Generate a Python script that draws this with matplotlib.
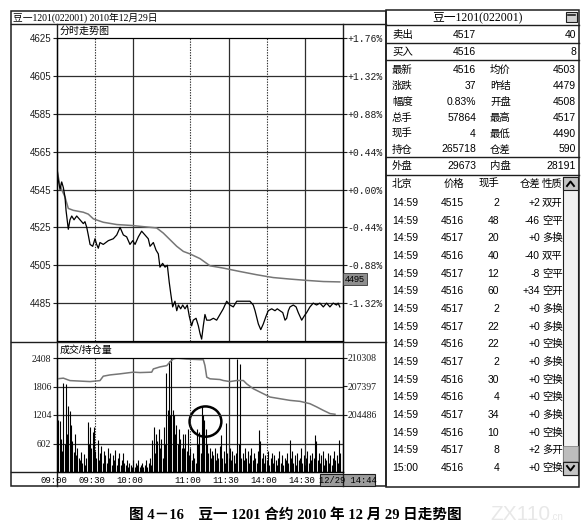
import matplotlib
matplotlib.use("Agg")
import matplotlib.pyplot as plt
import matplotlib.transforms as mtransforms
from matplotlib.patches import Rectangle, Ellipse

# intraday trace, x = trading minutes since 09:00 (lunch/break removed)
price_t = [0, 1, 2.4, 3.7, 5, 6.3, 7.1, 8.9, 10.2, 11.6, 13.4, 15.5, 18.1, 20.7, 22, 23.4,
           24.6, 26, 28.1, 29.9, 31.2, 32.5, 33.8, 36.4, 40.4, 44.3, 47, 49.6, 52.2, 54.8,
           57.4, 59.6, 61.4, 64, 66.6, 69.2, 71.8, 73.2, 75.8, 77.9, 79.7, 81, 83.1, 85,
           86.8, 88.3, 89.5, 91, 92.8, 94.2, 95.5, 97.3, 98.9, 100.7, 102.5, 104.1, 105.9,
           107.2, 109.4, 111.2, 112.5, 113.8, 115.1, 116.4, 117.8, 120.4, 123, 125.6, 128.2,
           130.8, 133.5, 136.1, 138.7, 141.4, 143.9, 146.5, 149.1, 151.8, 154.4, 155.8,
           158.4, 160.3, 162.3, 164.4, 166.2, 168.9, 171.5, 173.3, 175.4, 177.6, 179.4,
           180.7, 182, 183.3, 185.9, 188.1, 189.8, 192.5, 194.3, 196.4, 199, 201.6, 204.2,
           206.8, 209.5, 212.1, 214.7, 217.3, 219.9, 221.2, 222.5]
price_v = [4557, 4550, 4545, 4549, 4546, 4541, 4534, 4524, 4529, 4531, 4529, 4531, 4529, 4527,
           4528, 4525, 4521, 4516, 4515, 4519, 4516, 4514, 4517, 4516, 4518, 4519, 4521, 4525,
           4521, 4520, 4516, 4518, 4516, 4520, 4523, 4521, 4519, 4515, 4517, 4513, 4511, 4504,
           4506, 4504, 4505, 4496, 4490, 4483, 4486, 4481, 4484, 4482, 4484, 4482, 4484, 4478,
           4473, 4476, 4477, 4473, 4469, 4466, 4473, 4479, 4476, 4476, 4477, 4476, 4479, 4482,
           4486, 4484, 4483, 4486, 4486, 4486, 4486, 4486, 4484, 4481, 4474, 4471, 4474, 4478,
           4481, 4482, 4481, 4482, 4481, 4480, 4476, 4477, 4481, 4483, 4484, 4483, 4480, 4476,
           4478, 4480, 4483, 4485, 4484, 4485, 4483, 4485, 4483, 4485, 4484, 4485, 4483]

avg_t = [0, 2.4, 6.3, 8.9, 12.8, 20.7, 24.6, 28.6, 36.4, 47, 58.8, 70.6, 78.4, 83.6, 88.9,
         94.2, 99.4, 104.6, 112.5, 120.4, 130.8, 143.9, 157, 170.1, 183.3, 196.4, 209.5, 222.5]
avg_v = [4555, 4547, 4541, 4535, 4534, 4533, 4532, 4529.5, 4527.7, 4526.5, 4526, 4525.2,
         4524.7, 4522, 4518.5, 4515, 4512.3, 4511, 4508.5, 4504.7, 4503.5, 4501.7, 4500,
         4498.5, 4497.7, 4497, 4496.4, 4496.2]
avg_label = "4495"

oi_t = [0, 5, 10.2, 18.1, 26, 29.9, 33.8, 36.4, 41.7, 49.6, 60, 65.3, 74.5, 75.8, 81, 86.3,
        88.9, 91.5, 94.2, 102, 112.5, 115.1, 116.4, 117.8, 120.4, 128.2, 130.8, 136.1, 141.4,
        146.6, 149.2, 154.4, 162.3, 167.6, 175.4, 183.3, 191.2, 199, 204.3, 209.5, 214.8, 218.7]
oi_v = [208180, 208250, 208000, 207950, 207900, 207950, 208000, 208450, 208580, 208690,
        208860, 208820, 208860, 209190, 209400, 209530, 209900, 210210, 210300, 210200,
        210140, 210140, 209530, 208350, 208180, 208110, 208010, 207900, 208010, 208010,
        207670, 207170, 206660, 206320, 206150, 205980, 205880, 205640, 205310, 204960,
        204630, 204560]

# one bar per minute
volume = [1280, 1100, 1070, 700, 450, 1890, 600, 1850, 800, 1390,
          1280, 1000, 650, 420, 800, 350, 500, 300, 250, 420,
          200, 380, 150, 300, 1050, 600, 960, 500, 850, 950,
          450, 300, 680, 250, 400, 540, 200, 450, 350, 200,
          500, 300, 400, 150, 350, 250, 470, 150, 300, 400,
          150, 250, 400, 200, 150, 250, 100, 200, 150, 100,
          260, 100, 200, 150, 250, 100, 150, 200, 100, 150,
          250, 100, 200, 300, 150, 680, 940, 400, 800, 650,
          900, 500, 700, 300, 950, 600, 2100, 1300, 2350, 1200,
          2400, 1300, 1200, 800, 1000, 600, 900, 700, 500, 800,
          500, 800, 450, 900, 350, 500, 250, 400, 300, 200,
          900, 600, 850, 400, 1400, 1200, 1100, 900, 600, 400,
          500, 300, 450, 350, 500, 250, 400, 300, 550, 780,
          300, 450, 200, 1030, 400, 300, 500, 250, 450, 350,
          200, 400, 2380, 600, 2280, 300, 400, 250, 500, 300,
          450, 200, 350, 500, 250, 400, 300, 200, 450, 890,
          650, 300, 400, 200, 350, 250, 450, 150, 300, 400,
          200, 350, 250, 150, 300, 450, 200, 350, 150, 300,
          250, 400, 200, 680, 300, 450, 200, 350, 150, 400,
          250, 300, 500, 200, 350, 150, 300, 450, 200, 350,
          250, 400, 300, 790, 650, 250, 400, 200, 350, 450,
          150, 300, 250, 400, 200, 350, 150, 300, 450, 250,
          350, 200, 680, 400]

price_ticks = [4485, 4505, 4525, 4545, 4565, 4585, 4605, 4625]
base_price = 4545
vol_ticks = [602, 1204, 1806, 2408]
oi_ticks = [204486, 207397, 210308]
time_ticks = [0, 30, 60, 105, 135, 165, 195]
time_labels = ["09:00", "09:30", "10:00", "11:00", "11:30", "14:00", "14:30"]
grid_solid = [False, True, False, True, False, True]   # for time_ticks[1:]

# circled region in the volume panel (minute, volume, width, height)
ring = (116.8, 1065, 25, 640)

# quote panel
q_name_l = ["卖出", "买入", "最新", "涨跌", "幅度", "总手", "现手", "持仓", "外盘"]
q_val_l = ["4517", "4516", "4516", "37", "0.83%", "57864", "4", "265718", "29673"]
q_name_r = ["", "", "均价", "昨结", "开盘", "最高", "最低", "仓差", "内盘"]
q_val_r = ["40", "8", "4503", "4479", "4508", "4517", "4490", "590", "28191"]

tick_head = ["北京", "价格", "现手", "仓差", "性质"]
tick_time = ["14:59"] * 15 + ["15:00"]
tick_price = [4515, 4516, 4517, 4516, 4517, 4516, 4517, 4517, 4516, 4517, 4516, 4516, 4517, 4516, 4517, 4516]
tick_hand = [2, 48, 20, 40, 12, 60, 2, 22, 22, 2, 30, 4, 34, 10, 8, 4]
tick_diff = ["+2", "-46", "+0", "-40", "-8", "+34", "+0", "+0", "+0", "+0", "+0", "+0", "+0", "+0", "+2", "+0"]
tick_kind = ["双开", "空平", "多换", "双平", "空平", "空开", "多换", "多换", "空换", "多换",
             "空换", "空换", "多换", "空换", "多开", "空换"]

plt.rcParams['font.family'] = ['Liberation Sans', 'Noto Sans CJK SC']
SERIF = ['Liberation Serif', 'Noto Sans CJK SC']
MONO = ['Liberation Mono', 'Noto Sans CJK SC']
LINE = '#1e1e1e'
GRID = '#2e2e2e'
GRAY = '#767676'

W, H = 586, 532
fig = plt.figure(figsize=(W / 100, H / 100), dpi=100)


def box(x0, y0, x1, y1):
    return [x0 / W, 1 - y1 / H, (x1 - x0) / W, (y1 - y0) / H]


bg = fig.add_axes([0, 0, 1, 1])
bg.set_xlim(0, W)
bg.set_ylim(H, 0)
bg.axis('off')

# window frames
bg.add_patch(Rectangle((11, 11), 375, 475, fill=False, ec=LINE, lw=1.1))
bg.add_patch(Rectangle((386, 10), 193, 477, fill=False, ec=LINE, lw=1.1))
bg.plot([11, 386], [24, 24], color=LINE, lw=1)
bg.plot([57, 57], [24, 486], color=LINE, lw=1)
bg.plot([343, 343], [24, 486], color=LINE, lw=1)
bg.plot([11, 386], [341.5, 341.5], color=LINE, lw=1)
bg.plot([11, 343], [472, 472], color=LINE, lw=1)

bg.text(13, 17.5, "豆一1201(022001) 2010年12月29日", fontsize=7, va='center', family=SERIF)
bg.text(60, 31, "分时走势图", fontsize=7.2, va='center')
bg.text(60, 350, "成交/持仓量", fontsize=7.2, va='center')

# price panel
axp = fig.add_axes(box(57, 38, 343, 341))
axp.set_facecolor('none')
axp.set_xlim(0, 225)
axp.set_ylim(4465, 4625)
for p in price_ticks[:-1]:
    axp.axhline(p, color=GRID, lw=0.9)
for t, solid in zip(time_ticks[1:], grid_solid):
    axp.axvline(t, color=GRID, lw=0.9 if solid else 0.8, ls='-' if solid else (0, (1.2, 1.2)))
axp.plot(avg_t, avg_v, color=GRAY, lw=1.1)
axp.plot(price_t, price_v, color='black', lw=0.9)
axp.set_xticks([])
axp.set_yticks(price_ticks)
axp.set_yticklabels([str(p) for p in price_ticks], fontsize=7)
axp.tick_params(axis='y', direction='out', length=3, width=0.8, pad=1, colors=LINE)
for s in axp.spines.values():
    s.set_color(LINE)

axr = axp.twinx()
axr.set_ylim(axp.get_ylim())
axr.set_yticks(price_ticks)
axr.set_yticklabels([f"{(p - base_price) / base_price * 100:+.2f}%" for p in price_ticks],
                    fontsize=7, family=MONO)
axr.tick_params(axis='y', direction='out', length=3, width=0.8, pad=0, colors=LINE)
tr = mtransforms.blended_transform_factory(axr.transAxes, axr.transData)
axr.text(1.008, avg_v[-1] + 1.5, avg_label, transform=tr, fontsize=6.5, va='center', ha='left',
         bbox=dict(boxstyle='square,pad=0.2', fc='#8e8e8e', ec='#333333', lw=0.6))

# volume / open interest panel
axv = fig.add_axes(box(57, 358, 343, 472))
axv.set_facecolor('none')
axv.set_xlim(0, 225)
axv.set_ylim(0, 2408)
for v in vol_ticks[:-1]:
    axv.axhline(v, color=GRID, lw=0.9)
for t, solid in zip(time_ticks[1:], grid_solid):
    axv.axvline(t, color=GRID, lw=0.9 if solid else 0.8, ls='-' if solid else (0, (1.2, 1.2)))
axv.vlines(range(len(volume)), 0, volume, color='black', lw=0.8)
axv.set_yticks(vol_ticks)
axv.set_yticklabels([str(v) for v in vol_ticks], fontsize=7, family=SERIF)
axv.tick_params(axis='y', direction='out', length=3, width=0.8, pad=1, colors=LINE)
axv.set_xticks(time_ticks)
axv.set_xticklabels(time_labels, fontsize=6.5, family=MONO)
axv.tick_params(axis='x', length=0, pad=3)
shift = mtransforms.ScaledTranslation(-3 / 100, 0, fig.dpi_scale_trans)
for lab in axv.get_xticklabels():
    lab.set_transform(lab.get_transform() + shift)
axv.add_patch(Ellipse(ring[:2], ring[2], ring[3], fill=False, ec='black', lw=1.8, clip_on=False))
for s in axv.spines.values():
    s.set_color(LINE)

oi_step = oi_ticks[1] - oi_ticks[0]
axo = axv.twinx()
axo.set_ylim(oi_ticks[-1] - oi_step * len(vol_ticks), oi_ticks[-1])
axo.plot(oi_t, oi_v, color=GRAY, lw=1.1)
axo.set_yticks(oi_ticks)
axo.set_yticklabels([str(v) for v in oi_ticks], fontsize=7, family=SERIF)
axo.tick_params(axis='y', direction='out', length=3, width=0.8, pad=0, colors=LINE)

bg.add_patch(Rectangle((320, 474), 55, 12, fc='#9c9c9c', ec=LINE, lw=0.8))
bg.text(347.5, 480.5, "12/29 14:44", fontsize=6.3, family=MONO, ha='center', va='center')

# quote panel
bg.text(478, 17, "豆一1201(022001)", fontsize=8.5, ha='center', va='center', family=SERIF)
bg.add_patch(Rectangle((566, 12), 11, 10, fc='#d0d0d0', ec=LINE, lw=0.8))
bg.plot([568, 575], [15, 15], color=LINE, lw=1.2)
for yy in [25, 43, 60, 157, 175]:
    bg.plot([386, 579], [yy, yy], color=LINE, lw=1)
row_y = [35, 52, 70, 86, 102, 118, 134, 149.5, 166]
for y, a, b, c, d in zip(row_y, q_name_l, q_val_l, q_name_r, q_val_r):
    bg.text(392, y, a, fontsize=7.5, va='center')
    bg.text(476, y, b, fontsize=7.5, va='center', ha='right')
    bg.text(490, y, c, fontsize=7.5, va='center')
    bg.text(576, y, d, fontsize=7.5, va='center', ha='right')

bg.text(392, 184, tick_head[0], fontsize=7.5, va='center')
bg.text(464, 184, tick_head[1], fontsize=7.5, va='center', ha='right')
bg.text(499, 184, tick_head[2], fontsize=7.5, va='center', ha='right')
bg.text(540, 184, tick_head[3], fontsize=7.5, va='center', ha='right')
bg.text(562, 184, tick_head[4], fontsize=7.5, va='center', ha='right')
for i in range(len(tick_time)):
    y = 203 + i * 17.67
    bg.text(392, y, tick_time[i], fontsize=7.5, va='center')
    bg.text(464, y, str(tick_price[i]), fontsize=7.5, va='center', ha='right')
    bg.text(499, y, str(tick_hand[i]), fontsize=7.5, va='center', ha='right')
    bg.text(540, y, tick_diff[i], fontsize=7.5, va='center', ha='right')
    bg.text(542, y, tick_kind[i], fontsize=7.5, va='center', ha='left')

# scrollbar
bg.add_patch(Rectangle((563, 177), 15, 298, fc='#f2f2f2', ec=LINE, lw=0.8))
bg.add_patch(Rectangle((563, 177), 15, 13, fc='#c4c4c4', ec=LINE, lw=0.8))
bg.add_patch(Rectangle((563, 462), 15, 13, fc='#c4c4c4', ec=LINE, lw=0.8))
bg.add_patch(Rectangle((563, 446), 15, 15, fc='#bdbdbd', ec='#888888', lw=0.6))
bg.plot([567, 570.5, 574], [186, 181.5, 186], color='black', lw=1.4)
bg.plot([567, 570.5, 574], [466, 470.5, 466], color='black', lw=1.4)

# caption
bg.text(295, 515, "图 4－16    豆一 1201 合约 2010 年 12 月 29 日走势图", fontsize=10.5,
        fontweight='bold', ha='center', va='center', family=SERIF)
bg.text(520, 514, "ZX110", fontsize=15, color='#e8e8e8', ha='center', va='center')
bg.text(550, 517, ".cn", fontsize=7, color='#e8e8e8', ha='left', va='center')

fig.savefig("out.png", dpi=100)
